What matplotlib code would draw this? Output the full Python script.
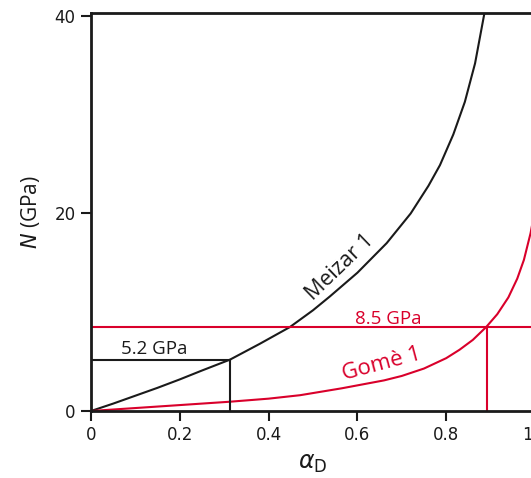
import matplotlib
matplotlib.use("Agg")
import matplotlib.pyplot as plt

# Data
meizar_x = [0.0, 0.05, 0.1, 0.15, 0.2, 0.25, 0.313, 0.38, 0.448, 0.5, 0.538, 0.6, 0.666,
            0.72, 0.76, 0.786, 0.816, 0.842, 0.865, 0.887]
meizar_y = [0.0, 0.75, 1.55, 2.35, 3.2, 4.1, 5.2, 6.8, 8.5, 10.2, 11.6, 14.0, 17.0,
            20.0, 22.8, 24.9, 28.0, 31.3, 35.2, 40.5]

gome_x = [0.0, 0.1, 0.2, 0.313, 0.4, 0.471, 0.565, 0.66, 0.7, 0.75, 0.8, 0.83, 0.86,
          0.89, 0.915, 0.94, 0.96, 0.975, 0.99, 1.0]
gome_y = [0.0, 0.3, 0.6, 0.94, 1.25, 1.6, 2.3, 3.1, 3.55, 4.3, 5.35, 6.2, 7.2,
          8.5, 9.8, 11.5, 13.4, 15.3, 18.0, 20.4]

meizar_alpha, meizar_N = 0.313, 5.2
gome_alpha, gome_N = 0.892, 8.5

xticks = [0, 0.2, 0.4, 0.6, 0.8, 1.0]
xticklabels = ["0", "0.2", "0.4", "0.6", "0.8", "1.0"]
yticks = [0, 20, 40]

BLACK = "#1a1a1a"
RED = "#d9002b"
TXT = "Open Sans"

fig = plt.figure(figsize=(5.31, 4.78), dpi=100)
W, H = 531, 478
ax = fig.add_axes([91 / W, (H - 411) / H, 444 / W, (411 - 12.5) / H])

ax.plot(meizar_x, meizar_y, color=BLACK, lw=1.5)
ax.plot(gome_x, gome_y, color=RED, lw=1.5)

# reference lines
ax.plot([0, meizar_alpha], [meizar_N, meizar_N], color=BLACK, lw=1.5)
ax.plot([meizar_alpha, meizar_alpha], [0, meizar_N], color=BLACK, lw=1.5)
ax.plot([0, 1.0], [gome_N, gome_N], color=RED, lw=1.5)
ax.plot([gome_alpha, gome_alpha], [0, gome_N], color=RED, lw=1.5)

ax.text(0.142, 6.3, "5.2 GPa", fontsize=13.5, family=TXT, color=BLACK,
        ha="center", va="center")
ax.text(0.669, 9.3, "8.5 GPa", fontsize=13.5, family=TXT, color=RED,
        ha="center", va="center")
ax.text(0.655, 4.7, "Gomè 1", fontsize=16, family=TXT, color=RED,
        ha="center", va="center", rotation=15)
ax.text(0.56, 14.6, "Meizar 1", fontsize=15.5, family=TXT, color=BLACK,
        ha="center", va="center", rotation=44)

ax.set_xlim(0, 1.0)
ax.set_ylim(0, 40.35)
ax.set_xticks(xticks)
ax.set_xticklabels(xticklabels)
ax.set_yticks(yticks)
ax.tick_params(direction="out", length=7, width=1.5, labelsize=12, colors=BLACK, pad=4)
for s in ax.spines.values():
    s.set_linewidth(2)
    s.set_color(BLACK)

ax.set_xlabel(r"$\alpha_{\mathrm{D}}$", fontsize=17, color=BLACK, labelpad=5)
ax.set_ylabel("$N$ (GPa)", fontsize=15, family=TXT, color=BLACK, labelpad=9)

fig.savefig("out.png", dpi=100)
